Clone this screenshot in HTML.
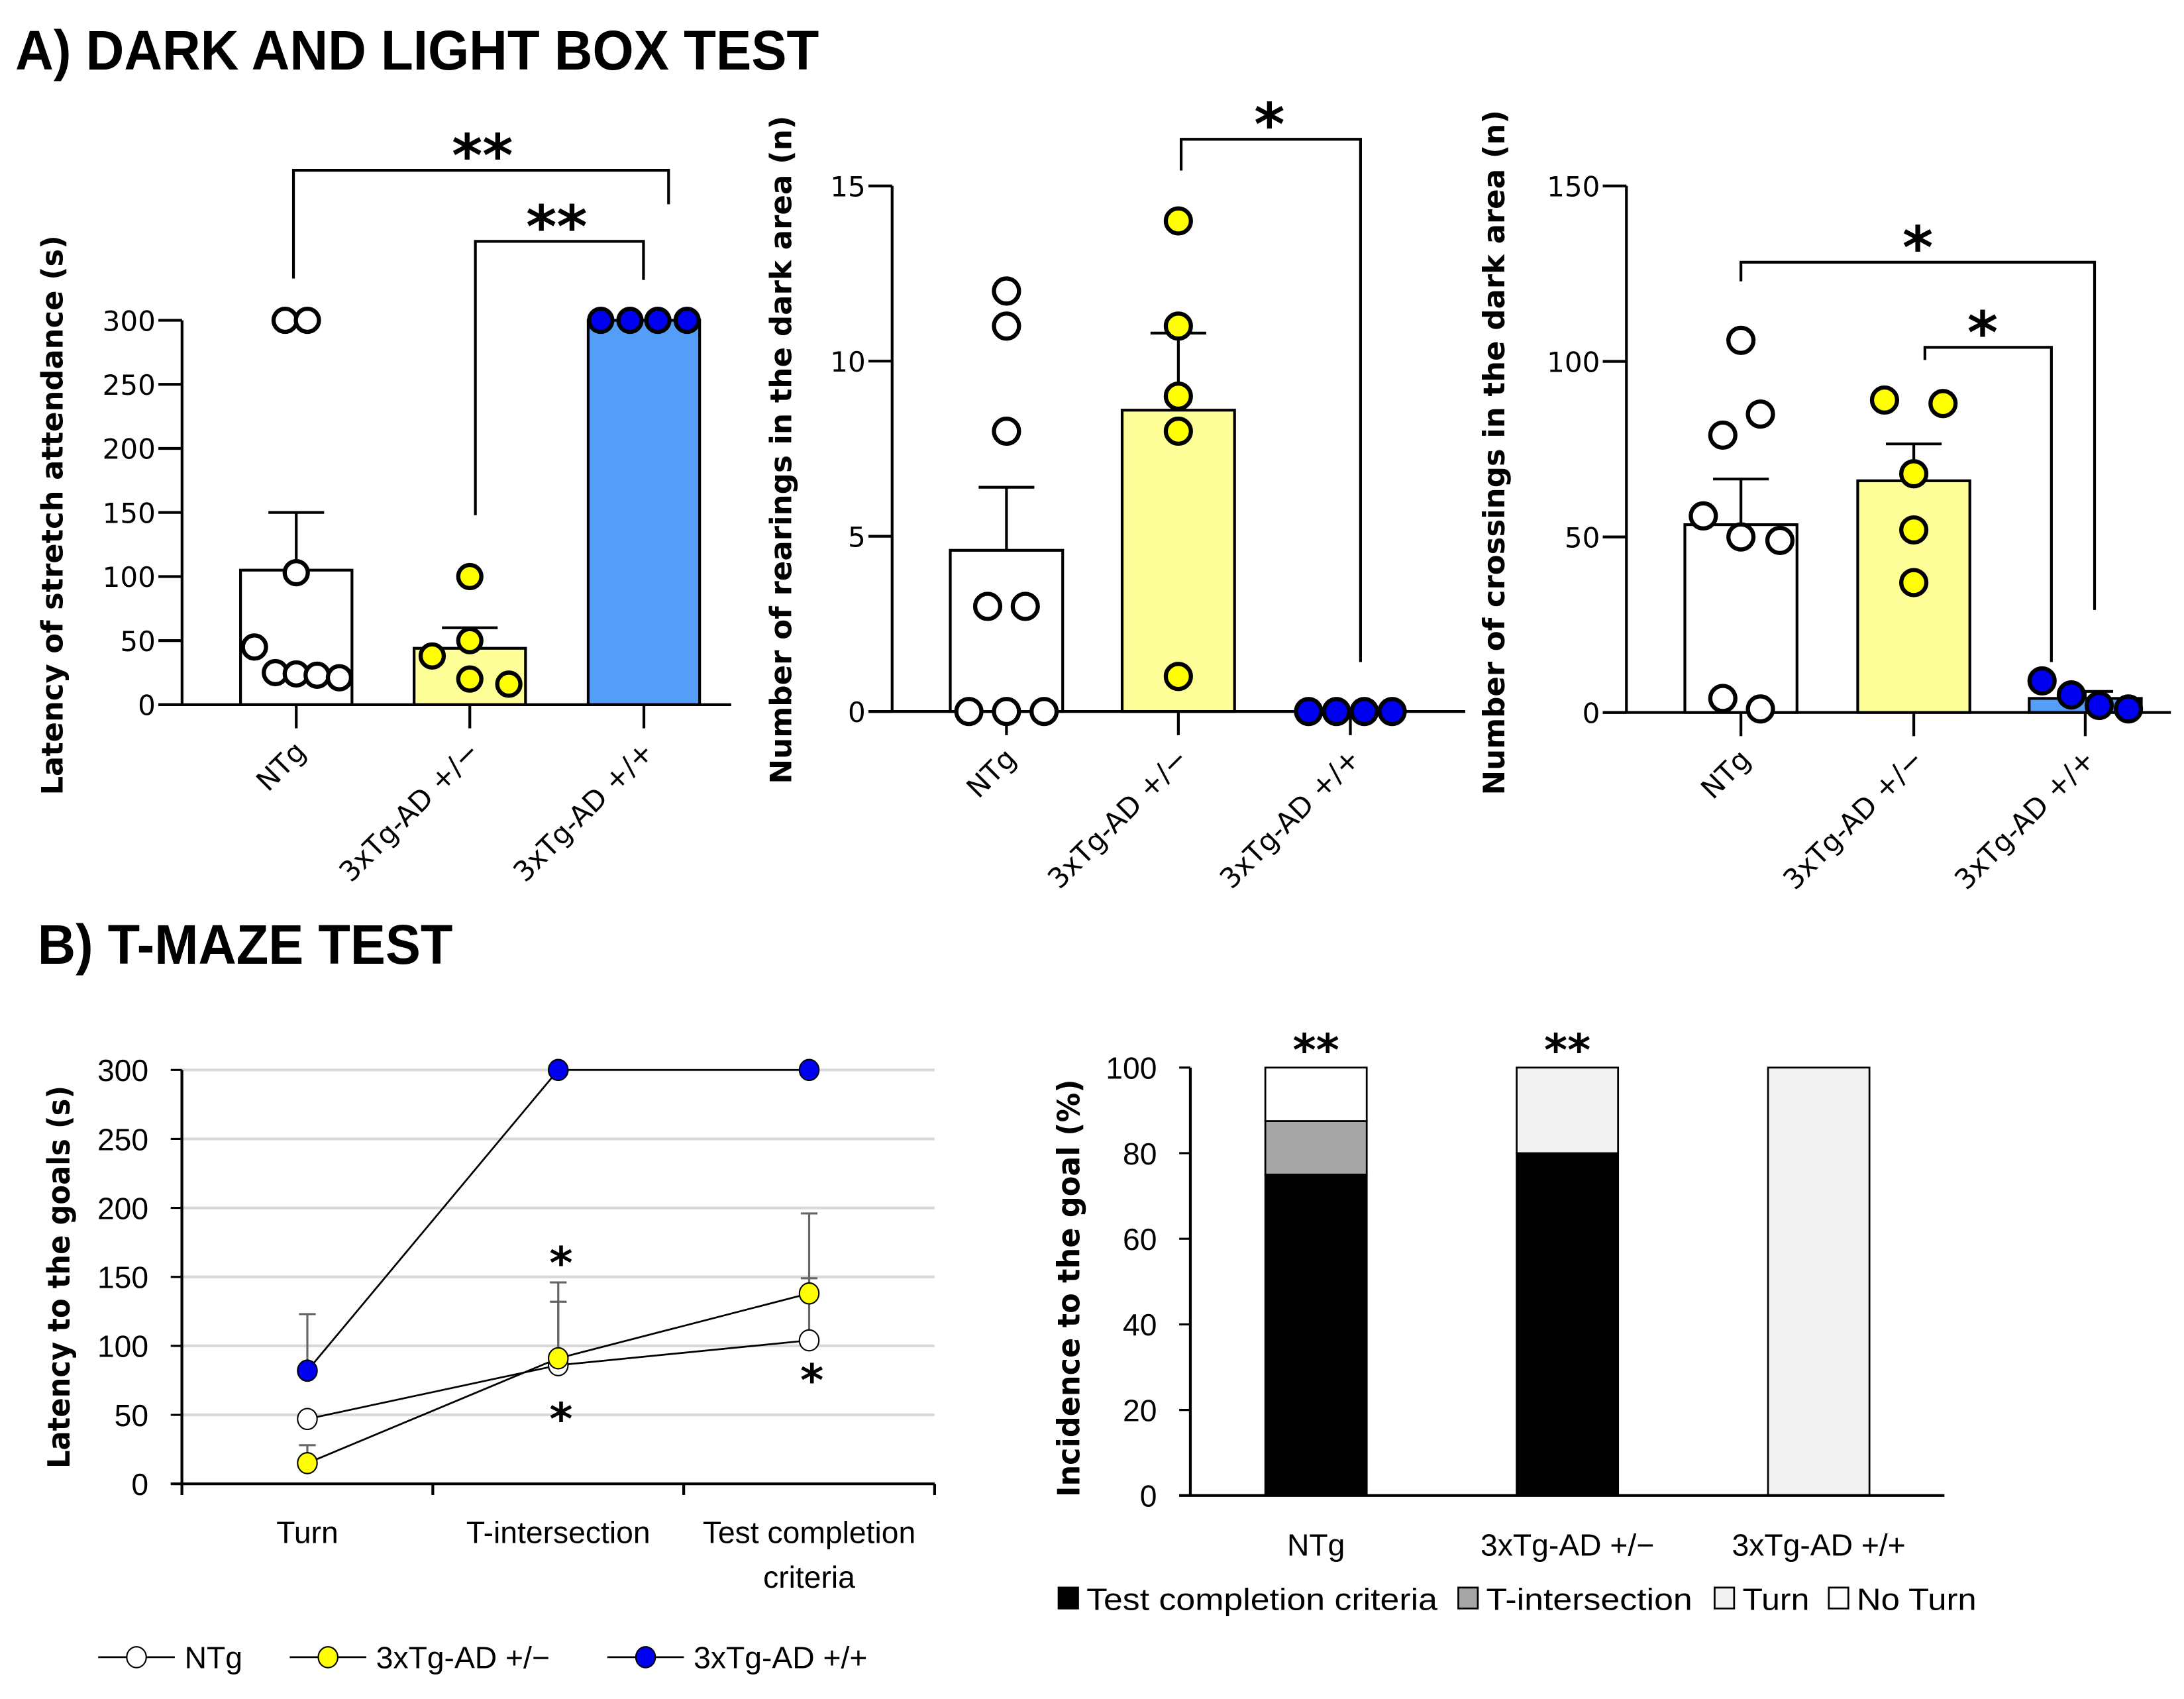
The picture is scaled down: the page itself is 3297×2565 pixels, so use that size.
<!DOCTYPE html>
<html><head><meta charset="utf-8"><style>
html,body{margin:0;padding:0;background:#fff;}
svg{display:block;}
</style></head><body>
<svg id="fig" xmlns="http://www.w3.org/2000/svg" width="3297" height="2565" viewBox="0 0 1568 1220" preserveAspectRatio="none">
<rect x="0" y="0" width="1568" height="1220" fill="#fff"/>
<text x="11" y="50" font-family="Liberation Sans, sans-serif" font-weight="bold" font-size="40" textLength="577" lengthAdjust="spacingAndGlyphs">A) DARK AND LIGHT BOX TEST</text>
<text x="27" y="692" font-family="Liberation Sans, sans-serif" font-weight="bold" font-size="40" textLength="298" lengthAdjust="spacingAndGlyphs">B) T-MAZE TEST</text>
</svg>
<script>
// ---------- DATA ----------
const groups = ["NTg", "3xTg-AD +/\u2212", "3xTg-AD +/+"];
// Panel A1: latency of stretch attendance
const a1Means = [105, 44, 300];
const a1Sem = [45, 16, 0];
const a1Points = [[300, 300, 103, 45, 25, 24, 23, 21], [100, 50, 38, 20, 16], [300, 300, 300, 300]];
const a1Ticks = [0, 50, 100, 150, 200, 250, 300];
// Panel A2: rearings
const a2Means = [4.6, 8.6, 0];
const a2Sem = [1.8, 2.2, 0];
const a2Points = [[12, 11, 8, 3, 3, 0, 0, 0], [14, 11, 9, 8, 1], [0, 0, 0, 0]];
const a2Ticks = [0, 5, 10, 15];
// Panel A3: crossings
const a3Means = [53.5, 66, 4];
const a3Sem = [13, 10.5, 2];
const a3Points = [[106, 85, 79, 56, 50, 49, 4, 1], [89, 88, 68, 52, 37], [9, 5, 2, 1]];
const a3Ticks = [0, 50, 100, 150];
// Panel B1: T-maze latency
const stages = ["Turn", "T-intersection", "Test completion|criteria"];
const b1NTg = [47, 86, 104];
const b1NTgErr = [0, 46, 45];
const b1Het = [15, 91, 138];
const b1HetErr = [13, 55, 58];
const b1Hom = [82, 300, 300];
const b1HomErr = [41, 0, 0];
const b1Ticks = [0, 50, 100, 150, 200, 250, 300];
const b1StarVals = [[1, 165], [1, 52], [2, 80]];
// Panel B2: incidence
const b2TCC = [75, 80, 0];
const b2TInt = [12.5, 0, 0];
const b2Turn = [0, 20, 100];
const b2NoTurn = [12.5, 0, 0];
const b2Ticks = [0, 20, 40, 60, 80, 100];
const b2Stars = ["**", "**", ""];
const b2LegendLabels = ["Test completion criteria", "T-intersection", "Turn", "No Turn"];
// Brackets: [fromGroup, toGroup, barValue, leftEndValue, rightEndValue, label]
const a1Brackets = [[0, 2, 0, 0, 0, "**"], [1, 2, 0, 0, 0, "**"]];
const a2Brackets = [[1, 2, 0, 0, 0, "*"]];
const a3Brackets = [[0, 2, 0, 0, 0, "*"], [1, 2, 0, 0, 0, "*"]];

// ---------- RENDER ----------
const NS = "http://www.w3.org/2000/svg";
const svg = document.getElementById("fig");
function mk(tag, attrs, parent) {
  const e = document.createElementNS(NS, tag);
  for (const k in attrs) e.setAttribute(k, attrs[k]);
  (parent || svg).appendChild(e);
  return e;
}
const SANS = "DejaVu Sans, sans-serif";
const NAR = "Liberation Sans, sans-serif";

function barPanel(cfg, means, sem, points, ticks, brackets) {
  const g = mk("g", {});
  
  
  const y = v => cfg.y0 - (v / cfg.yMax) * (cfg.y0 - cfg.yTop);
  const t = mk("text", {x: 0, y: 0, transform: `translate(${cfg.titleX},${cfg.titleY}) rotate(-90)`, "text-anchor": "middle", "font-family": SANS, "font-weight": "bold", "font-size": 21, textLength: cfg.titleLen, lengthAdjust: "spacingAndGlyphs"}, g);
  t.textContent = cfg.title;
  
  
  ticks.forEach(v => {
    const l = mk("line", {x1: cfg.axisX - 17, x2: cfg.axisX, y1: y(v), y2: y(v), stroke: "#000", "stroke-width": 2}, g);
    
    
    const tl = mk("text", {x: cfg.axisX - 19, y: y(v) + 7.5, "text-anchor": "end", "font-family": SANS, "font-size": 20}, g);
    tl.textContent = v;
    
    
  });
  means.forEach((m, i) => {
    const cx = cfg.centers[i];
    const r = mk("rect", {x: cx - cfg.bw / 2, y: y(m), width: cfg.bw, height: cfg.y0 - y(m), fill: cfg.fills[i], stroke: "#000", "stroke-width": 2}, g);
    
    
    if (sem[i] > 0) {
      const e1 = mk("line", {x1: cx, x2: cx, y1: y(m), y2: y(m + sem[i]), stroke: "#000", "stroke-width": 2}, g);
      
      
      const e2 = mk("line", {x1: cx - 20, x2: cx + 20, y1: y(m + sem[i]), y2: y(m + sem[i]), stroke: "#000", "stroke-width": 2}, g);
      
      
    }
  });
  const ya = mk("line", {x1: cfg.axisX, x2: cfg.axisX, y1: cfg.yTop, y2: cfg.y0, stroke: "#000", "stroke-width": 2}, g);
  
  
  const xa = mk("line", {x1: cfg.axisX - 17, x2: cfg.xEnd, y1: cfg.y0, y2: cfg.y0, stroke: "#000", "stroke-width": 2}, g);
  
  
  groups.forEach((name, i) => {
    const cx = cfg.centers[i];
    const tk = mk("line", {x1: cx, x2: cx, y1: cfg.y0, y2: cfg.y0 + 17, stroke: "#000", "stroke-width": 2}, g);
    
    
    const lb = mk("text", {x: 0, y: 0, transform: `translate(${cx + 8},${cfg.y0 + 35}) rotate(-45)`, "text-anchor": "end", "font-family": SANS, "font-size": 20}, g);
    lb.textContent = name;
    
    
  });
  points.forEach((arr, i) => {
    arr.forEach((v, j) => {
      const dx = cfg.jitter[i][j] || 0;
      const c = mk("circle", {cx: cfg.centers[i] + dx, cy: y(v), r: cfg.pr, fill: cfg.dots[i], stroke: "#000", "stroke-width": 3}, g);
      
      
    });
  });
  brackets.forEach((b, k) => {
    const geo = cfg.brGeo[k];
    const x1 = cfg.centers[b[0]], x2 = cfg.brRight[k];
    const p = mk("path", {d: `M${x1 + (geo.dx1 || 0)},${geo.l} V${geo.top} H${x2} V${geo.r}`, fill: "none", stroke: "#000", "stroke-width": 2}, g);
    
    
    const s = mk("text", {x: (x1 + x2) / 2, y: geo.top + 4, "text-anchor": "middle", "font-family": SANS, "font-weight": "bold", "font-size": 42}, g);
    s.textContent = b[5];
    
    
  });
}

barPanel({name: "latency-stretch-chart", axisX: 130.7, y0: 506, yTop: 230, yMax: 300, xEnd: 525,
  centers: [212.7, 337.3, 462.3], bw: 80, fills: ["#fff", "#ffff99", "#559ef7"], dots: ["#fff", "#ffff00", "#0000f0"],
  pr: 8.3, jitter: [[-8, 8, 0, -30, -15, 0, 15, 31], [0, 0, -27, 0, 28], [-31, -10, 10, 31]],
  title: "Latency of stretch attendance (s)", titleX: 45, titleY: 370, titleLen: 402,
  brGeo: [{l: 200, top: 122.3, r: 146.7, dx1: -2}, {l: 370, top: 173.3, r: 201, dx1: 4}], brRight: [480, 462]
}, a1Means, a1Sem, a1Points, a1Ticks, a1Brackets);

barPanel({name: "rearings-chart", axisX: 640.5, y0: 510.9, yTop: 133.5, yMax: 15, xEnd: 1052,
  centers: [722.6, 846, 969.5], bw: 80.7, fills: ["#fff", "#ffff99", "#559ef7"], dots: ["#fff", "#ffff00", "#0000f0"],
  pr: 9, jitter: [[0, 0, 0, -13.5, 13.5, -27, 0, 27], [0, 0, 0, 0, 0], [-30, -10, 10, 30]],
  title: "Number of rearings in the dark area (n)", titleX: 568, titleY: 323, titleLen: 480,
  brGeo: [{l: 122.5, top: 100, r: 475.4, dx1: 2}], brRight: [976.8]
}, a2Means, a2Sem, a2Points, a2Ticks, a2Brackets);

barPanel({name: "crossings-chart", axisX: 1167.7, y0: 511.6, yTop: 133.5, yMax: 150, xEnd: 1558.6,
  centers: [1249.9, 1374, 1497.1], bw: 80.5, fills: ["#fff", "#ffff99", "#559ef7"], dots: ["#fff", "#ffff00", "#0000f0"],
  pr: 9, jitter: [[0, 14, -13, -27, 0, 28, -13, 14], [-21, 21, 0, 0, 0], [-31, -10, 10, 31]],
  title: "Number of crossings in the dark area (n)", titleX: 1080, titleY: 325, titleLen: 492,
  brGeo: [{l: 202, top: 188.3, r: 438}, {l: 258.5, top: 249.4, r: 475.4, dx1: 8}], brRight: [1503.8, 1472.8]
}, a3Means, a3Sem, a3Points, a3Ticks, a3Brackets);

// ---------- Panel B1 line chart ----------
(function () {
  const g = mk("g", {});
  
  
  const ax = 130.6, xr = 671, y0 = 1065.5, yT = 768.3, yMax = 300;
  const y = v => y0 - v / yMax * (y0 - yT);
  const xs = i => ax + (i + 0.5) * (xr - ax) / stages.length;
  b1Ticks.forEach(v => {
    if (v > 0) {
      const gl = mk("line", {x1: ax, x2: xr, y1: y(v), y2: y(v), stroke: "#d9d9d9", "stroke-width": 2}, g);
      
      
    }
    const tk = mk("line", {x1: ax - 8, x2: ax, y1: y(v), y2: y(v), stroke: "#000", "stroke-width": 1.5}, g);
    
    
    const tl = mk("text", {x: ax - 24, y: y(v) + 8, "text-anchor": "end", "font-family": NAR, "font-size": 22}, g);
    tl.textContent = v;
    
    
  });
  const t = mk("text", {x: 0, y: 0, transform: `translate(50,917) rotate(-90)`, "text-anchor": "middle", "font-family": SANS, "font-weight": "bold", "font-size": 22, textLength: 275, lengthAdjust: "spacingAndGlyphs"}, g);
  t.textContent = "Latency to the goals (s)";
  
  
  const ya = mk("line", {x1: ax, x2: ax, y1: yT, y2: y0 + 8, stroke: "#000", "stroke-width": 2}, g);
  
  
  const xa = mk("line", {x1: ax - 8, x2: xr, y1: y0, y2: y0, stroke: "#000", "stroke-width": 2}, g);
  
  
  for (let i = 1; i <= stages.length; i++) {
    const xx = ax + i * (xr - ax) / stages.length;
    const tk = mk("line", {x1: xx, x2: xx, y1: y0, y2: y0 + 8, stroke: "#000", "stroke-width": 2}, g);
    
    
  }
  stages.forEach((s, i) => {
    s.split("|").forEach((ln, k) => {
      const tl = mk("text", {x: xs(i), y: 1108 + k * 32, "text-anchor": "middle", "font-family": NAR, "font-size": 22}, g);
      tl.textContent = ln;
      
      
    });
  });
  const series = [[b1NTg, b1NTgErr, "#fff"], [b1Het, b1HetErr, "#ffff00"], [b1Hom, b1HomErr, "#0000f0"]];
  series.forEach(s => s[0].forEach((v, i) => {
    if (s[1][i] > 0) {
      const e = mk("path", {d: `M${xs(i)},${y(v)} V${y(v + s[1][i])} M${xs(i) - 6},${y(v + s[1][i])} H${xs(i) + 6}`, stroke: "#666", "stroke-width": 1.5, fill: "none"}, g);
      
      
    }
  }));
  series.forEach(s => {
    const pl = mk("polyline", {points: s[0].map((v, i) => xs(i) + "," + y(v)).join(" "), fill: "none", stroke: "#000", "stroke-width": 1.3}, g);
    
    
  });
  series.forEach(s => s[0].forEach((v, i) => {
    const c = mk("ellipse", {cx: xs(i), cy: y(v), rx: 7, ry: 7.5, fill: s[2], stroke: "#000", "stroke-width": 1}, g);
    
    
  }));
  b1StarVals.forEach(sv => {
    const st = mk("text", {x: xs(sv[0]) + 2, y: y(sv[1]) + 16, "text-anchor": "middle", "font-family": SANS, "font-weight": "bold", "font-size": 32}, g);
    st.textContent = "*";
    
    
  });
  const legX = [70.5, 208, 436];
  const legNames = ["NTg", "3xTg-AD +/\u2212", "3xTg-AD +/+"];
  legNames.forEach((n, k) => {
    const lg = mk("g", {}, g);
    
    
    mk("line", {x1: legX[k], x2: legX[k] + 55, y1: 1190, y2: 1190, stroke: "#000", "stroke-width": 1.3}, lg);
    mk("ellipse", {cx: legX[k] + 27.5, cy: 1190, rx: 7, ry: 7.5, fill: series[k][2], stroke: "#000", "stroke-width": 1}, lg);
    const tx = mk("text", {x: legX[k] + 62, y: 1198, "font-family": NAR, "font-size": 22}, lg);
    tx.textContent = n;
  });
})();

// ---------- Panel B2 stacked bar ----------
(function () {
  const g = mk("g", {});
  
  
  const ax = 854.6, xr = 1396, y0 = 1073.9, yT = 766.6, yMax = 100;
  const y = v => y0 - v / yMax * (y0 - yT);
  const xs = i => ax + (i + 0.5) * (xr - ax) / groups.length;
  const bw = 72.8;
  b2Ticks.forEach(v => {
    const tk = mk("line", {x1: ax - 8, x2: ax, y1: y(v), y2: y(v), stroke: "#000", "stroke-width": 1.5}, g);
    
    
    const tl = mk("text", {x: ax - 24, y: y(v) + 8, "text-anchor": "end", "font-family": NAR, "font-size": 22}, g);
    tl.textContent = v;
    
    
  });
  const t = mk("text", {x: 0, y: 0, transform: `translate(775,925) rotate(-90)`, "text-anchor": "middle", "font-family": SANS, "font-weight": "bold", "font-size": 22, textLength: 300, lengthAdjust: "spacingAndGlyphs"}, g);
  t.textContent = "Incidence to the goal (%)";
  
  
  const stacks = [[b2TCC, "#000"], [b2TInt, "#a6a6a6"], [b2Turn, "#f2f2f2"], [b2NoTurn, "#fff"]];
  groups.forEach((name, i) => {
    let base = 0;
    stacks.forEach((s, k) => {
      const v = s[0][i];
      if (v > 0) {
        const r = mk("rect", {x: xs(i) - bw / 2, y: y(base + v), width: bw, height: y(base) - y(base + v), fill: s[1], stroke: "#000", "stroke-width": 1.3}, g);
        
        
      }
      base += v;
    });
    const cl = mk("text", {x: xs(i), y: 1117, "text-anchor": "middle", "font-family": NAR, "font-size": 22}, g);
    cl.textContent = name;
    
    
    if (b2Stars[i]) {
      const st = mk("text", {x: xs(i), y: 765, "text-anchor": "middle", "font-family": SANS, "font-weight": "bold", "font-size": 32}, g);
      st.textContent = b2Stars[i];
      
      
    }
  });
  const ya = mk("line", {x1: ax, x2: ax, y1: yT, y2: y0, stroke: "#000", "stroke-width": 2}, g);
  
  
  const xa = mk("line", {x1: ax - 8, x2: xr, y1: y0, y2: y0, stroke: "#000", "stroke-width": 2}, g);
  
  
  const lx = [760, 1047, 1231, 1313];
  const llen = [252, 148, 48, 86];
  b2LegendLabels.forEach((n, k) => {
    const lg = mk("g", {}, g);
    
    
    mk("rect", {x: lx[k], y: 1140, width: 14, height: 15, fill: stacks[k][1], stroke: "#000", "stroke-width": 1.3}, lg);
    const tx = mk("text", {x: lx[k] + 20, y: 1156, "font-family": NAR, "font-size": 22, textLength: llen[k], lengthAdjust: "spacingAndGlyphs"}, lg);
    tx.textContent = n;
  });
})();
</script>
</body></html>
